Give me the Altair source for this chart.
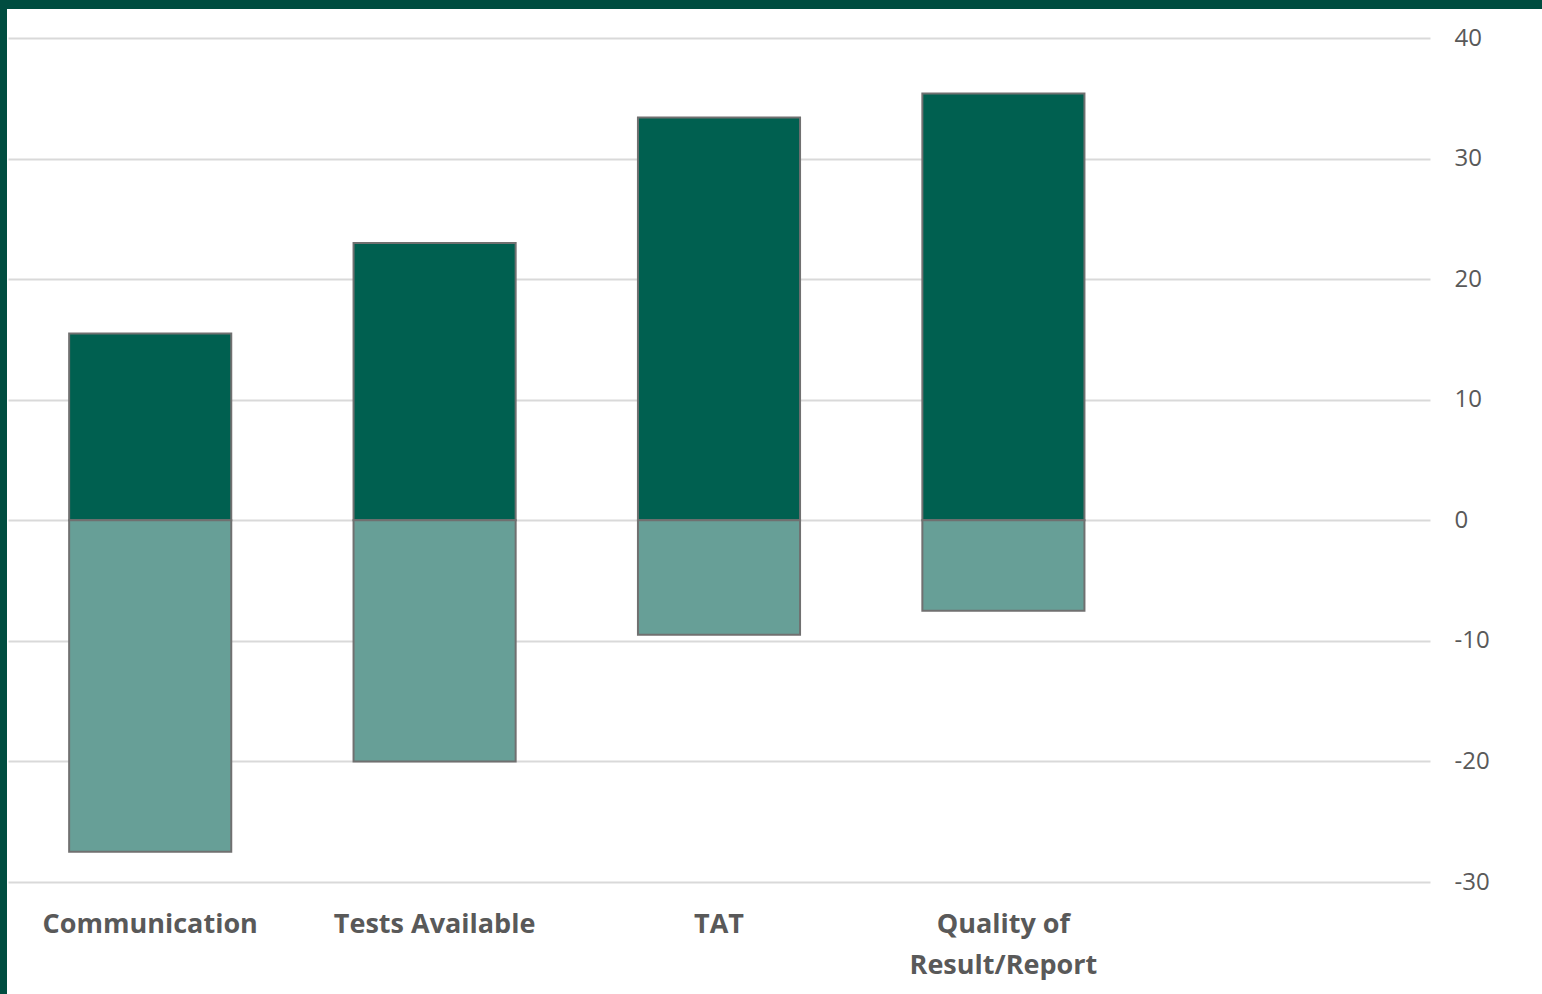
import altair as alt
import pandas as pd

categories = ["Communication", "Tests Available", "TAT", "Quality of Result/Report"]
positive = [15.5, 23.0, 33.4, 35.4]
negative = [-27.5, -20.0, -9.5, -7.5]
domain_slots = categories + ["_"]
y_ticks = [-30, -20, -10, 0, 10, 20, 30, 40]

rows = []
for c, p, n in zip(categories, positive, negative):
    rows.append({"category": c, "series": "pos", "value": p})
    rows.append({"category": c, "series": "neg", "value": n})
df = pd.DataFrame(rows)

DARK = "#006050"
LIGHT = "#679F97"
FRAME = "#004D40"
GRID = "#D9D9D9"
TEXT = "#595959"

label_expr = ("datum.value == '_' ? '' : (datum.value == 'Quality of Result/Report' "
              "? ['Quality of', 'Result/Report'] : datum.value)")

bars = alt.Chart(df).mark_bar(stroke="#707070", strokeWidth=2).encode(
    x=alt.X("category:N",
            scale=alt.Scale(domain=domain_slots, paddingInner=0.43, paddingOuter=0.215),
            sort=domain_slots,
            axis=alt.Axis(title=None, labelAngle=0, domain=False, ticks=False,
                          labelPadding=29, labelFont="Open Sans", labelFontWeight="bold",
                          labelFontSize=27, labelColor=TEXT, labelExpr=label_expr,
                          labelLineHeight=41, labelLimit=0, grid=False)),
    y=alt.Y("value:Q", stack=None,
            scale=alt.Scale(domain=[-30, 40], nice=False, zero=False),
            axis=alt.Axis(title=None, orient="right", values=y_ticks, domain=False,
                          ticks=False, labelPadding=24, labelFont="Open Sans",
                          labelFontSize=24, labelColor=TEXT, gridColor=GRID,
                          gridWidth=2, labelAlign="left",
                          labelExpr="'' + datum.value")),
    color=alt.Color("series:N", scale=alt.Scale(domain=["pos", "neg"], range=[DARK, LIGHT]),
                    legend=None),
)

frame_left = alt.Chart(pd.DataFrame({"k": [0]})).mark_rect(color=FRAME).encode(
    x=alt.value(-8), x2=alt.value(-1), y=alt.value(-38), y2=alt.value(960))
frame_top = alt.Chart(pd.DataFrame({"k": [0]})).mark_rect(color=FRAME).encode(
    x=alt.value(-8), x2=alt.value(1540), y=alt.value(-38), y2=alt.value(-29))

chart = alt.layer(bars, frame_left, frame_top).properties(
    width=1422, height=844,
    autosize=alt.AutoSizeParams(type="none"),
    padding={"left": 8, "top": 38, "right": 112, "bottom": 112},
    background="white",
).configure_view(stroke=None)

chart.save("out.html", embed_options={"renderer": "svg", "actions": False})
